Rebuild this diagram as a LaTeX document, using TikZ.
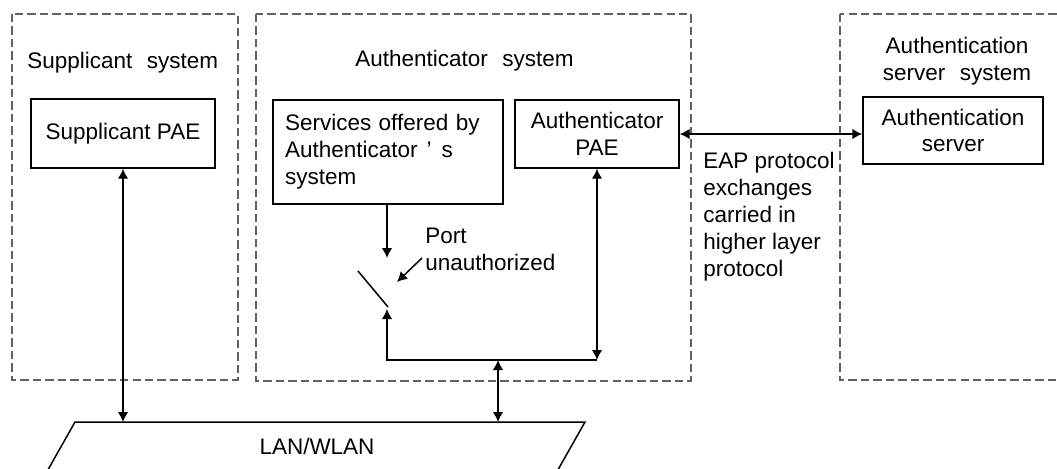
\documentclass[tikz,border=0pt]{standalone}
\usepackage{fontspec}
\setmainfont{Liberation Sans}
\usetikzlibrary{arrows.meta}

\begin{document}
\begin{tikzpicture}[x=0.02cm,y=-0.02cm,
  every node/.style={font=\fontsize{12.8}{15.3}\selectfont},
  sysbox/.style={draw=black!62,line width=1.1pt,dash pattern=on 4.8pt off 2.3pt},
  pae/.style={draw,line width=0.85pt,align=center,inner sep=0pt},
  label/.style={inner sep=0pt,align=left},
  conn/.style={line width=0.85pt},
  tip/.style={-{Latex[length=2mm,width=2.1mm]}},
  tips/.style={{Latex[length=2mm,width=2.1mm]}-{Latex[length=2mm,width=2.1mm]}}]

\clip (0,0) rectangle (1057,468);

\draw[sysbox] (12,14) rectangle (238,380);
\draw[sysbox] (256,14) rectangle (691,381);
\draw[sysbox] (840,14) rectangle (1075,380);

\node[label,anchor=north west] (supptitle) at (27,52) {Supplicant\hspace{0.65em}system};
\node[label,anchor=north west] (authtitle) at (355,50) {Authenticator\hspace{0.65em}system};
\node[label,align=center,anchor=north] (servtitle) at (957,37) {Authentication\\server\hspace{0.65em}system};

\node[pae,minimum width=3.68cm,minimum height=1.38cm] (supp) at (123,133.5) {Supplicant PAE};
\node[pae,align=left,text width=4.12cm,inner xsep=0.24cm,minimum height=2.08cm] (serv) at (388,152)
  {Services offered by\\Authenticator\hspace{0.4em}’\hspace{0.45em}s\\system};
\node[pae,minimum width=3.28cm,minimum height=1.36cm] (apae) at (597,134) {Authenticator\\PAE};
\node[pae,minimum width=3.6cm,minimum height=1.34cm] (aserv) at (953,130.5) {Authentication\\server};

\node[label,anchor=north west] (eap) at (703,152) {EAP protocol\\exchanges\\carried in\\higher layer\\protocol};
\node[label,anchor=north west] (port) at (425,228) {Port\\unauthorized};

\coordinate (lantop) at (317,422);
\draw[conn] (45,475) -- (75,422) -- (585,422) -- (555,475);
\node[inner sep=0pt] (lan) at (317,446) {LAN/WLAN};

\coordinate (swin) at (387,258);
\coordinate (swa) at (358,271);
\coordinate (swb) at (388,307);
\coordinate (swout) at (387,309);
\coordinate (busl) at (387,360);
\coordinate (busm) at (498,360);
\coordinate (busr) at (597,360);
\coordinate (portfrom) at (422,258);
\coordinate (portto) at (397,282);

\draw[conn,tips] (supp.south) -- (supp.south |- lantop);
\draw[conn,tip] (serv.south -| swin) -- (swin);
\draw[conn] (swa) -- (swb);
\draw[conn,tip] (busr) -- (busl) -- (swout);
\draw[conn,tips] (apae.south) -- (busr);
\draw[conn,tips] (busm) -- (busm |- lantop);
\draw[conn,tips] (apae.east) -- (apae.east -| aserv.west);
\draw[conn,tip] (portfrom) -- (portto);

\end{tikzpicture}
\end{document}
